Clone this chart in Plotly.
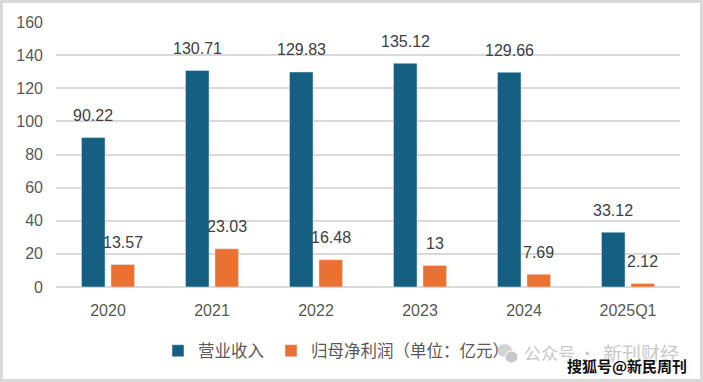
import plotly.graph_objects as go

categories = ["2020", "2021", "2022", "2023", "2024", "2025Q1"]
revenue = [90.22, 130.71, 129.83, 135.12, 129.66, 33.12]
net_profit = [13.57, 23.03, 16.48, 13, 7.69, 2.12]
revenue_name = "营业收入"
profit_name = "归母净利润（单位：亿元）"
y_ticks = [0, 20, 40, 60, 80, 100, 120, 140, 160]

BLUE = "#156082"
ORANGE = "#E97132"
FONT = "Liberation Sans, Arial, Noto Sans CJK SC"


def px(xp):
    return (xp - 56) / 624


def py(yp):
    return (287 - yp) / 265


fig = go.Figure()
fig.add_trace(go.Bar(x=categories, y=revenue, name=revenue_name, marker_color=BLUE,
                     legendwidth=68))
fig.add_trace(go.Bar(x=categories, y=net_profit, name=profit_name, marker_color=ORANGE))

annotations = []
for vals, xs in ((revenue, -14.75), (net_profit, 14.75)):
    for i, v in enumerate(vals):
        annotations.append(dict(
            x=i, y=v, xref="x", yref="y", text=f"{v:g}", showarrow=False,
            xshift=xs, yshift=22, yanchor="middle",
            font=dict(family=FONT, size=16, color="#404040")))

# watermark texts
annotations.append(dict(
    x=px(522), y=py(352), xref="paper", yref="paper",
    text="公众号 ·", showarrow=False, xanchor="left", yanchor="middle",
    font=dict(family="Noto Sans CJK SC", size=17, color="#c8c8c8")))
annotations.append(dict(
    x=px(601), y=py(352), xref="paper", yref="paper",
    text="新刊财经", showarrow=False, xanchor="left", yanchor="middle",
    font=dict(family="Noto Sans CJK SC", size=19, color="#c8c8c8")))
annotations.append(dict(
    x=px(565), y=py(365), xref="paper", yref="paper",
    text="<b>搜狐号@新民周刊</b>", showarrow=False, xanchor="left", yanchor="middle",
    font=dict(family="Noto Sans CJK SC", size=15, color="#111111",
              shadow="0px 0px 2px white")))

shapes = [
    dict(type="rect", xref="paper", yref="paper",
         x0=px(1.5), x1=px(701.5), y0=py(380.5), y1=py(1.5),
         line=dict(color="#d9d9d9", width=3), layer="below"),
    dict(type="circle", xref="paper", yref="paper",
         x0=px(497), x1=px(512), y0=py(357), y1=py(344),
         fillcolor="#d4d4d4", line=dict(width=0), layer="below"),
    dict(type="circle", xref="paper", yref="paper",
         x0=px(505), x1=px(518), y0=py(363), y1=py(351),
         fillcolor="#c8c8c8", line=dict(color="white", width=1), layer="below"),
]

fig.update_layout(
    width=703, height=382,
    margin=dict(l=56, r=23, t=22, b=95, autoexpand=False),
    paper_bgcolor="white", plot_bgcolor="white",
    barmode="group", bargap=0.433, bargroupgap=0.2,
    font=dict(family=FONT, size=16, color="#595959"),
    showlegend=True,
    legend=dict(orientation="h", x=px(158), xanchor="left",
                y=py(351), yanchor="middle",
                font=dict(family="Noto Sans CJK SC, Liberation Sans", size=16.5, color="#595959"),
                itemwidth=30, bgcolor="rgba(0,0,0,0)"),
    annotations=annotations,
    shapes=shapes,
)
fig.update_xaxes(type="category", range=[-0.5, 5.5], showgrid=False, showline=False, ticks="",
                 tickfont=dict(size=16), ticklabelstandoff=12)
fig.update_yaxes(range=[0, 160], tickvals=y_ticks, showgrid=True, gridcolor="#d9d9d9",
                 gridwidth=2, zeroline=True, zerolinecolor="#d9d9d9", zerolinewidth=2,
                 showline=False, ticks="", tickfont=dict(size=16), ticklabelstandoff=12)

fig.write_html("out.html", config={"displayModeBar": False},
               post_script="document.body.style.margin='0';")
